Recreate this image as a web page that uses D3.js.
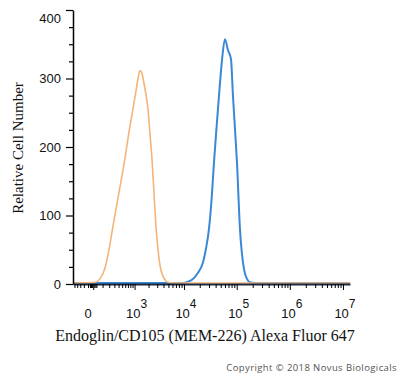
<!DOCTYPE html>
<html>
<head>
<script src="https://d3js.org/d3.v7.min.js"></script>
<style>
  body { margin: 0; background: #fff; }
  svg { display: block; }
</style>
</head>
<body>
<svg id="chart" width="400" height="378"></svg>
<script>
// isotype control (orange) - fluorescence intensity vs count
const isoX = [-280, 16, 68, 133, 195, 271, 410, 592, 741, 919, 1074, 1190, 1317, 1452, 1602, 1767, 1944, 2138, 2351, 2580, 2833, 3106, 3405, 3905, 4475, 4900, 6700, 1.356e7];
const isoY = [0, 1, 6, 22, 48, 83, 132, 182, 220, 254, 280, 298, 310, 306, 292, 275, 254, 218, 181, 132, 83, 50, 26, 10, 3, 1, 0, 0];

// Endoglin/CD105 stained (blue)
const cdX = [-280, 9568, 11930, 14864, 18508, 23030, 26250, 29930, 34110, 37220, 42410, 46260, 52710, 60050, 68410, 77940, 85030, 92760, 101140, 115180, 131220, 143120, 156180, 177880, 220900, 1.356e7];
const cdY = [0, 0, 2, 6, 15, 30, 50, 79, 130, 176, 235, 273, 325, 356, 340, 327, 273, 225, 176, 79, 30, 14, 6, 1, 0, 0];

const yTicks = d3.range(0, 401, 25);
const yLabels = [0, 100, 200, 300, 400];
const xMajor = [0, 1e3, 1e4, 1e5, 1e6, 1e7];
const xMinor = [-250, -200, -150, -100, -50, -30, -20, -10, 10, 20, 30, 100, 200, 300, 400, 500, 600, 700, 800, 900]
  .concat(...[3, 4, 5, 6].map(d => d3.range(2, 10).map(k => k * Math.pow(10, d))));

const svg = d3.select("#chart");

const x = d3.scaleSymlog().constant(200)
    .domain([-280, 1.356e7])
    .range([73, 350]);

const y = d3.scaleLinear()
    .domain([0, 400])
    .range([284, 10]);

// curves
const line = d3.line()
    .x(d => x(d[0]))
    .y(d => y(d[1]) - 1)
    .curve(d3.curveMonotoneX);

svg.append("path")
    .datum(cdX.map((v, i) => [v, cdY[i]]))
    .attr("fill", "none")
    .attr("stroke", "#3b88d6")
    .attr("stroke-width", 2)
    .attr("d", line);

svg.append("path")
    .datum(isoX.map((v, i) => [v, isoY[i]]))
    .attr("fill", "none")
    .attr("stroke", "#f4b47a")
    .attr("stroke-width", 1.6)
    .attr("d", line);

// y axis
const yAxis = svg.append("g")
    .attr("transform", "translate(73,0)")
    .call(d3.axisLeft(y).tickValues(yTicks).tickFormat(d => yLabels.includes(d) ? d : "").tickSizeOuter(0));
yAxis.select(".domain").attr("stroke", "#000").attr("stroke-width", 1.5);
yAxis.selectAll(".tick line")
    .attr("x2", d => yLabels.includes(d) ? -7 : -4)
    .attr("stroke-width", 1.2);
yAxis.selectAll(".tick text")
    .attr("x", -12)
    .attr("dy", d => d === 400 ? "0.95em" : "0.32em")
    .style("font-family", "Liberation Sans, Arial, sans-serif")
    .style("font-size", "13px")
    .attr("fill", "#111");

// x axis
const xAxis = svg.append("g")
    .attr("transform", "translate(0,284)")
    .call(d3.axisBottom(x).tickValues(xMajor.concat(xMinor)).tickFormat("").tickSizeOuter(0));
xAxis.select(".domain").attr("stroke", "#1a2a40").attr("stroke-width", 1.8);
xAxis.selectAll(".tick line")
    .attr("y2", d => xMajor.includes(d) ? 6 : 4)
    .attr("stroke-width", 1);

const xl = svg.append("g")
    .style("font-family", "Liberation Sans, Arial, sans-serif")
    .attr("fill", "#111");
xMajor.forEach(v => {
  const t = xl.append("text")
      .attr("x", v === 0 ? x(v) - 5 : x(v) + 2)
      .attr("y", 318)
      .attr("text-anchor", "middle")
      .style("font-size", "13px");
  if (v === 0) {
    t.text("0");
  } else {
    t.append("tspan").text("10");
    t.append("tspan").attr("dy", -10).style("font-size", "12px").text(Math.round(Math.log10(v)));
  }
});

// axis titles
svg.append("text")
    .attr("x", 205)
    .attr("y", 341)
    .attr("text-anchor", "middle")
    .style("font-family", "Liberation Serif, Times New Roman, serif")
    .style("font-size", "16px")
    .attr("fill", "#111")
    .text("Endoglin/CD105 (MEM-226) Alexa Fluor 647");

svg.append("text")
    .attr("transform", "translate(23,148) rotate(-90)")
    .attr("text-anchor", "middle")
    .style("font-family", "Liberation Serif, Times New Roman, serif")
    .style("font-size", "15px")
    .attr("fill", "#111")
    .text("Relative Cell Number");

svg.append("text")
    .attr("x", 397)
    .attr("y", 371)
    .attr("text-anchor", "end")
    .style("font-family", "Open Sans, sans-serif")
    .style("font-size", "9.5px")
    .style("letter-spacing", "0.4px")
    .attr("fill", "#555")
    .text("Copyright \u00A9 2018 Novus Biologicals");
</script>
</body>
</html>
